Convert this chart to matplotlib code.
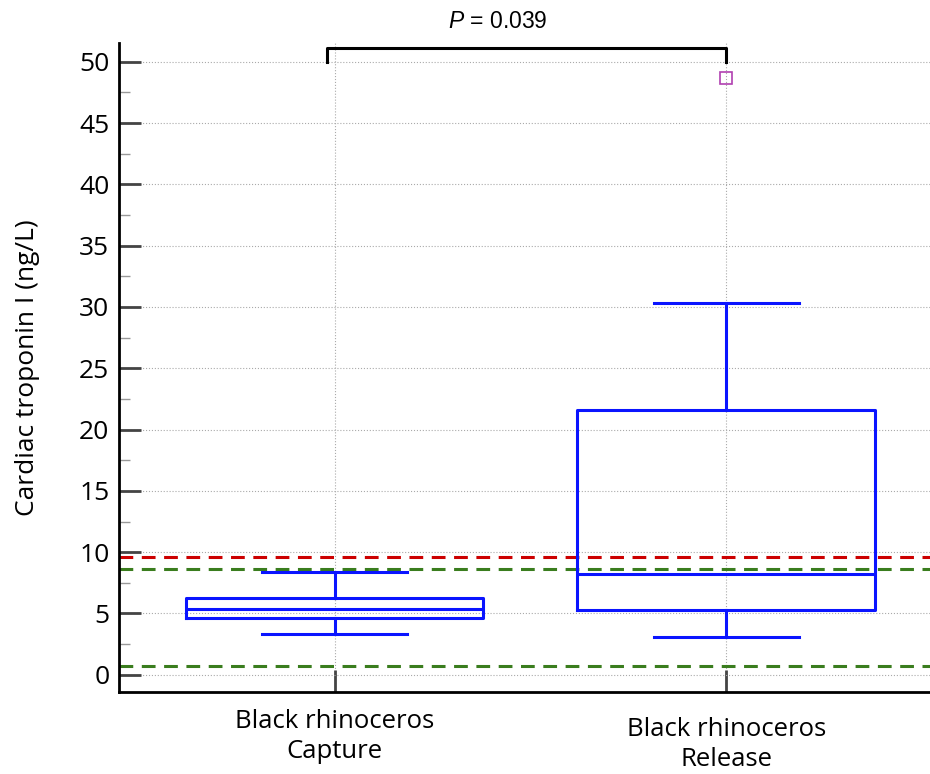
import numpy as np
import matplotlib.pyplot as plt
import matplotlib.transforms as mtransforms
from matplotlib.ticker import MultipleLocator

plt.rcParams['font.family'] = ['Open Sans', 'DejaVu Sans']
plt.rcParams['mathtext.fontset'] = 'custom'
plt.rcParams['mathtext.it'] = 'Liberation Sans:italic'
plt.rcParams['mathtext.rm'] = 'Liberation Sans'

# box statistics
groups = ['Black rhinoceros\nCapture', 'Black rhinoceros\nRelease']
whislo = [3.3, 3.1]
q1 = [4.6, 5.3]
med = [5.4, 8.2]
q3 = [6.3, 21.6]
whishi = [8.4, 30.3]
fliers = [[], [48.7]]

# reference lines
ref_red = 9.6
ref_green = [8.6, 0.7]
p_text = '$P$ = 0.039'

stats = []
for i in range(len(groups)):
    stats.append(dict(whislo=whislo[i], q1=q1[i], med=med[i], q3=q3[i],
                      whishi=whishi[i], fliers=fliers[i]))

fig = plt.figure(figsize=(9.3, 7.74), dpi=100)
ax = fig.add_axes([0.128, 0.106, 0.872, 0.838])

blue = '#0a14ff'
ax.bxp(stats, positions=[1, 2], widths=0.76, showfliers=True,
       boxprops=dict(color=blue, lw=2.2),
       medianprops=dict(color=blue, lw=2.2),
       whiskerprops=dict(color=blue, lw=2.2),
       capprops=dict(color=blue, lw=2.2),
       capwidths=0.37,
       flierprops=dict(marker='s', markersize=9, markerfacecolor='none',
                       markeredgecolor='#b040b0', markeredgewidth=1.2),
       zorder=3)

ax.axhline(ref_red, color='#cc0000', ls=(0, (4.5, 2.8)), lw=2.2, zorder=2)
for g in ref_green:
    ax.axhline(g, color='#3a7d1e', ls=(0, (4.5, 2.8)), lw=2.2, zorder=2)

ax.set_xlim(0.45, 2.52)
ax.set_ylim(-1.4, 51.5)
ax.yaxis.set_major_locator(MultipleLocator(5))
ax.yaxis.set_minor_locator(MultipleLocator(2.5))
ax.set_xticks([1, 2])
ax.set_xticklabels(groups, fontsize=18.5, linespacing=1.3)
ax.tick_params(axis='y', which='major', direction='in', length=16, width=2,
               color='#444444', labelsize=19, pad=7)
ax.tick_params(axis='y', which='minor', direction='in', length=8, width=1,
               color='#999999')
ax.tick_params(axis='x', direction='in', length=16, width=2,
               color='#444444', pad=12)
ax.grid(True, ls=':', color='#aaaaaa', lw=0.8)
ax.set_axisbelow(True)

# the second category label sits a little lower in the source
lab = ax.get_xticklabels()[1]
lab.set_transform(lab.get_transform() +
                  mtransforms.ScaledTranslation(0, -8 / 100, fig.dpi_scale_trans))

for s in ['top', 'right']:
    ax.spines[s].set_visible(False)
for s in ['left', 'bottom']:
    ax.spines[s].set_linewidth(2)
    ax.spines[s].set_color('black')

ax.set_ylabel('Cardiac troponin I (ng/L)', fontsize=19, labelpad=28)

# significance bracket
ax.plot([0.98, 0.98, 2.0, 2.0], [50, 51.1, 51.1, 50], color='black', lw=2.2,
        clip_on=False, zorder=4)
ax.text(1.417, 53.3, p_text, ha='center', va='center', fontsize=16.5,
        family='Liberation Sans')

fig.savefig('out.png', dpi=100)
